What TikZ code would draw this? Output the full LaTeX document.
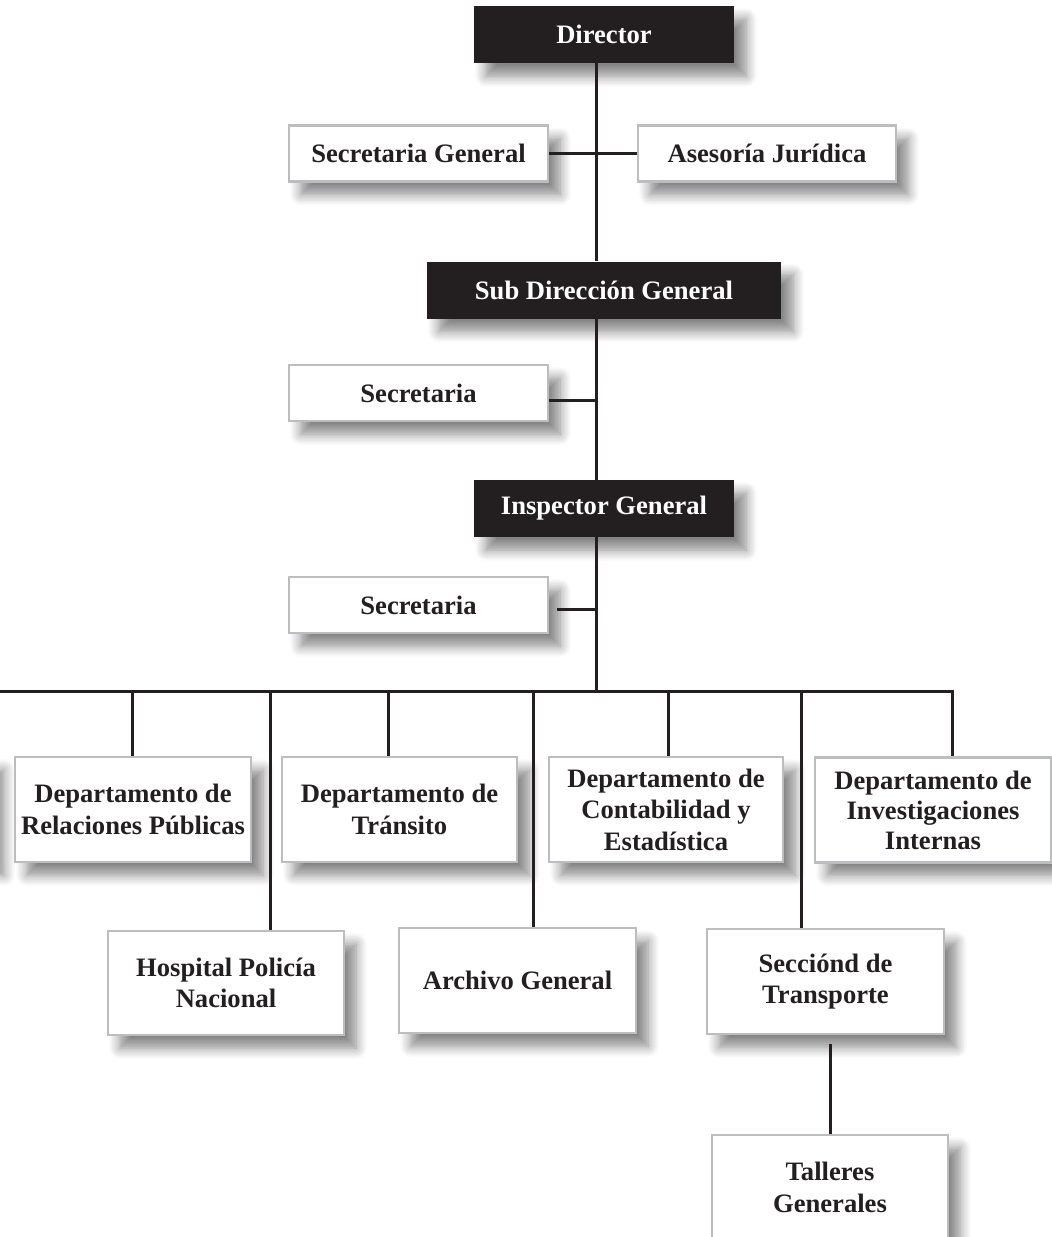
\documentclass[tikz,border=0pt]{standalone}
\usepackage{fontspec}
\setmainfont{Liberation Serif}
\usetikzlibrary{shadows.blur}
\definecolor{ink}{HTML}{231F20}
\definecolor{frame}{HTML}{BCBDC0}
\tikzset{
  shade/.style={blur shadow={shadow xshift=12pt, shadow yshift=-13pt,
      shadow blur radius=11pt, shadow blur steps=8, shadow opacity=48}},
  labeltext/.style={font=\fontsize{26.6}{31.5}\selectfont\bfseries, align=center},
  darkbox/.style={shade, labeltext, fill=ink, text=white, draw=none,
      inner sep=0pt, minimum height=57pt},
  lightbox/.style={shade, labeltext, fill=white, text=ink, draw=frame,
      line width=2.8pt, inner sep=0pt},
  smallbox/.style={lightbox, minimum width=259pt, minimum height=56pt},
  deptbox/.style={lightbox, minimum width=236pt, minimum height=105pt},
  link/.style={draw=ink, line width=3pt},
}
\begin{document}
\begin{tikzpicture}[x=1pt, y=-1pt]
\useasboundingbox (0,0) rectangle (1052,1237);

% top of the hierarchy
\node[darkbox, minimum width=260pt] (dir) at (604,34.5) {Director};
\node[smallbox] (sg) at (418.5,153.5) {Secretaria General};
\node[smallbox, minimum width=258pt] (aj) at (767,153.5) {Asesoría Jurídica};
\node[darkbox, minimum width=354pt] (sub) at (604,290) {Sub Dirección General};
\node[smallbox] (sec1) at (418.5,393) {Secretaria};
\node[darkbox, minimum width=260pt] (insp) at (604,508.5) {Inspector General};
\node[smallbox] (sec2) at (418.5,605) {Secretaria};

% departments, first row
\node[deptbox] (cut) at (-126,809.5) {};
\node[deptbox] (rp) at (133,809.5) {Departamento de\\Relaciones Públicas};
\node[deptbox, minimum width=235pt] (tr) at (399.5,809.5) {Departamento de\\Tránsito};
\node[deptbox, minimum width=234pt] (co) at (666,809.5) {Departamento de\\Contabilidad y\\Estadística};
\node[deptbox, font=\fontsize{26.6}{30}\selectfont\bfseries] (ii) at (933,810) {Departamento de\\Investigaciones\\Internas};

% departments, second row
\node[deptbox, minimum height=104pt] (hp) at (226,983) {Hospital Policía\\Nacional};
\node[deptbox, minimum width=237pt] (ag) at (517.5,980.5) {Archivo General};
\node[deptbox, minimum width=237pt] (st) at (825.5,981.5) {Secciónd de\\Transporte};
\node[deptbox] (tg) at (830,1187.5) {Talleres\\Generales};

% spine and bus
\coordinate (spine) at (596,0);
\coordinate (busL) at (0,691);
\coordinate (busR) at (952,691);
\coordinate (busM) at (596,691);
\coordinate (d1) at (132,691);
\coordinate (d2) at (270,691);
\coordinate (d3) at (388,691);
\coordinate (d4) at (533,691);
\coordinate (d5) at (668,691);
\coordinate (d6) at (801,691);

\path[link] (dir.south -| spine) -- (sub.north -| spine);
\path[link] (sg.east) -- (aj.west);
\path[link] (sub.south -| spine) -- (insp.north -| spine);
\path[link] ([yshift=-7pt]sec1.east) -- ([yshift=-7pt]sec1.east -| spine);
\path[link] (insp.south -| spine) -- (busM);
\path[link, shorten <=8pt] ([yshift=-4pt]sec2.east) -- ([yshift=-4pt]sec2.east -| spine);
\path[link] ([xshift=-2pt]busL) -- ([xshift=1.5pt]busR);

\path[link] (d1) -- (rp.north -| d1);
\path[link] (d2) -- (hp.north -| d2);
\path[link] (d3) -- (tr.north -| d3);
\path[link] (d4) -- (ag.north -| d4);
\path[link] (d5) -- (co.north -| d5);
\path[link] (d6) -- (st.north -| d6);
\path[link] (busR) -- (ii.north -| busR);
\path[link, shorten <=9pt] (st.south -| tg.north) -- (tg.north);
\end{tikzpicture}
\end{document}
